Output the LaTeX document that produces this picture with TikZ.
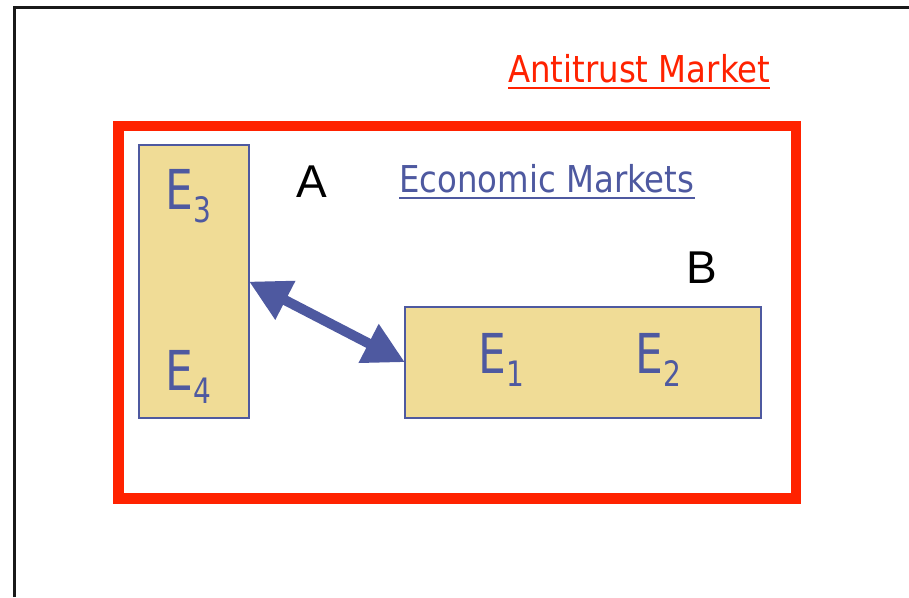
\documentclass[tikz,border=0pt]{standalone}
\usepackage{fontspec}
\setmainfont{DejaVu Sans}[FakeStretch=0.875]
\newfontfamily\efont{DejaVu Sans}[FakeStretch=0.8]
\newfontfamily\arialf{Liberation Sans}
\usetikzlibrary{arrows.meta}
\definecolor{fred}{HTML}{FF2200}
\definecolor{fblue}{HTML}{4E59A0}
\definecolor{fyel}{HTML}{F0DC96}
\tikzset{
  ybox/.style={draw=fblue, line width=2pt, fill=fyel, inner sep=0pt, outer sep=0pt},
  elab/.style={text=fblue, font=\efont\fontsize{55}{55}\selectfont, inner sep=0pt, anchor=base west},
  ttl/.style={font=\fontsize{37}{37}\selectfont, inner sep=0pt, anchor=base west},
  blk/.style={font=\arialf\fontsize{46}{46}\selectfont, inner sep=0pt, anchor=base west, text=black}
}
\newcommand{\esub}[1]{\raisebox{-13pt}{\fontsize{35}{35}\selectfont #1}}
\begin{document}
\begin{tikzpicture}[x=1pt,y=-1pt]
\useasboundingbox (0,0) rectangle (909,597);
% frame
\draw[line width=3pt, black!90] (14,597) -- (14,7) -- (909,7);
% antitrust rect
\draw[fred, line width=10.5pt] (118.5,126) rectangle (796,498.5);
% boxes
\node[ybox, minimum width=110.5pt, minimum height=273pt] (lbox) at (193.75,281.5) {};
\node[ybox, minimum width=355.5pt, minimum height=110.5pt] (rbox) at (582.75,362.25) {};
% labels
\node[elab] (e3) at (165,209) {E\esub{3}};
\node[elab] (e4) at (165,390) {E\esub{4}};
\node[elab] (e1) at (478,373) {E\esub{1}};
\node[elab] (e2) at (635,373) {E\esub{2}};
\node[blk] (a) at (296,197) {A};
\node[blk] (b) at (686,283) {B};
\node[ttl, text=fred] (ant) at (508,82) {Antitrust Market};
\draw[fred, line width=2pt] ([yshift=-6pt]ant.base west) -- ([yshift=-6pt]ant.base east);
\node[ttl, text=fblue] (eco) at (399,192) {Economic Markets};
\draw[fblue, line width=2pt] ([yshift=-6pt]eco.base west) -- ([yshift=-6pt]eco.base east);
% arrow
\draw[fblue, line width=10pt, {Triangle[length=41pt,width=41pt]}-{Triangle[length=41pt,width=41pt]}] (lbox.east) -- (rbox.west);
\end{tikzpicture}
\end{document}
